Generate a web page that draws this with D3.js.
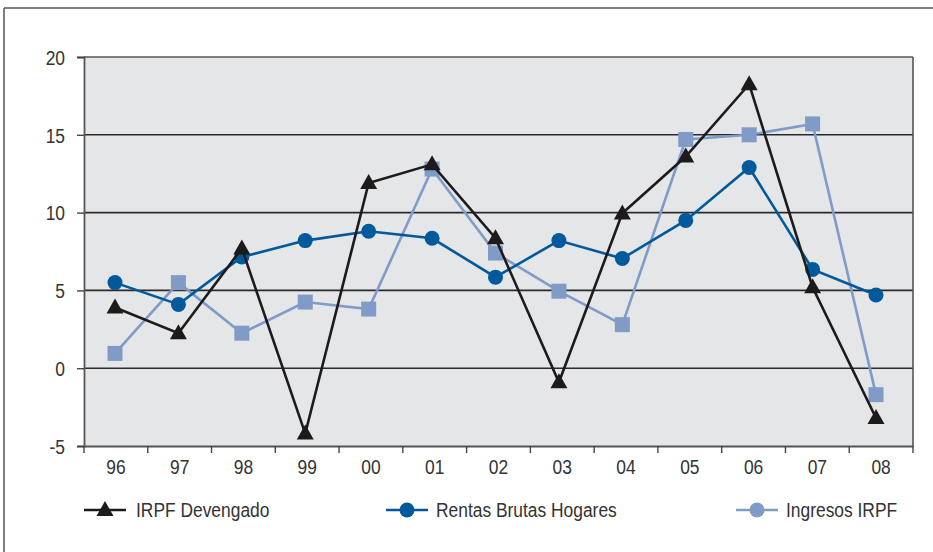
<!DOCTYPE html>
<html lang="es">
<head>
<meta charset="UTF-8">
<title>IRPF</title>
<script src="https://d3js.org/d3.v7.min.js"></script>
<style>
  body { margin: 0; background: #fff; }
  svg text { font-family: "Liberation Sans", Arial, sans-serif; fill: #333; }
</style>
</head>
<body>
<svg id="chart" width="933" height="552"></svg>
<script>
// data
var years = ["96","97","98","99","00","01","02","03","04","05","06","07","08"];
var irpfDevengado = [3.9, 2.25, 7.7, -4.2, 11.9, 13.1, 8.35, -0.9, 9.95, 13.6, 18.25, 5.2, -3.2];
var rentasBrutas = [5.5, 4.1, 7.15, 8.2, 8.8, 8.35, 5.85, 8.2, 7.05, 9.5, 12.9, 6.35, 4.7];
var ingresosIrpf = [0.95, 5.5, 2.25, 4.25, 3.8, 12.8, 7.4, 4.95, 2.8, 14.7, 15.0, 15.7, -1.7];
var yTicks = [-5, 0, 5, 10, 15, 20];

var series = [
  { name: "IRPF Devengado", values: irpfDevengado, color: "#1c1a1b", shape: "triangle" },
  { name: "Rentas Brutas Hogares", values: rentasBrutas, color: "#00599a", shape: "circle" },
  { name: "Ingresos IRPF", values: ingresosIrpf, color: "#7f9bc6", shape: "square" }
];

const svg = d3.select("#chart");
const margin = { left: 84, right: 20, top: 57, bottom: 106 };
const W = 933, H = 552;
const sx = 0.87; // condensed look of the text
const fontSize = 20;

// outer frame
svg.append("line").attr("x1", 4).attr("y1", 8).attr("x2", W).attr("y2", 8)
   .attr("stroke", "#555").attr("stroke-width", 1.5);
svg.append("line").attr("x1", 4).attr("y1", 8).attr("x2", 4).attr("y2", H)
   .attr("stroke", "#555").attr("stroke-width", 1.5);

const x = d3.scaleBand().domain(years).range([margin.left, W - margin.right]);
const xp = d3.scalePoint().domain(years).range([115, 876]); // marker positions
const y = d3.scaleLinear().domain([-5, 20]).range([H - margin.bottom, margin.top]);

// plot background
svg.append("rect")
   .attr("x", margin.left).attr("y", y(20))
   .attr("width", x.range()[1] - margin.left).attr("height", y(-5) - y(20))
   .attr("fill", "#e5e6e8");

// gridlines
svg.selectAll(".grid").data(yTicks.filter(d => d > -5)).enter().append("line")
   .attr("x1", margin.left).attr("x2", x.range()[1])
   .attr("y1", d => y(d)).attr("y2", d => y(d))
   .attr("stroke", d => d == 20 ? "#555" : "#2a2a2a").attr("stroke-width", 1.6);
// right border
svg.append("line").attr("x1", x.range()[1]).attr("x2", x.range()[1])
   .attr("y1", y(20)).attr("y2", y(-5)).attr("stroke", "#555").attr("stroke-width", 1.6);

// y axis
const yAxis = svg.append("g").attr("transform", `translate(${margin.left},0)`)
   .call(d3.axisLeft(y).tickValues(yTicks).tickSize(7).tickFormat(d => String(d)));
yAxis.selectAll("text").attr("x", -19 / sx).attr("dy", "0.36em");

// x axis with ticks on band edges
const xAxis = svg.append("g").attr("transform", `translate(0,${y(-5)})`)
   .call(d3.axisBottom(x).tickSize(0));
xAxis.selectAll("text").attr("y", 28).attr("dy", 0);
xAxis.selectAll(".edge").data(d3.range(years.length + 1)).enter().append("line")
   .attr("x1", i => margin.left + i * x.step()).attr("x2", i => margin.left + i * x.step())
   .attr("y1", 0).attr("y2", 7).attr("stroke", "#444").attr("stroke-width", 1.4);

[yAxis, xAxis].forEach(g => {
  g.select(".domain").attr("stroke", "#555").attr("stroke-width", 1.8);
  g.selectAll(".tick line").attr("stroke", "#444").attr("stroke-width", 1.4);
  g.selectAll("text").attr("font-size", fontSize).attr("fill", "#333")
   .attr("font-family", '"Liberation Sans", Arial, sans-serif')
   .attr("transform", `scale(${sx},1)`);
});

function drawMarker(g, shape, color) {
  if (shape == "triangle") {
    g.append("path").attr("d", "M0,-9 L8.5,6 L-8.5,6 Z").attr("fill", color);
  } else if (shape == "circle") {
    g.append("circle").attr("r", 7.5).attr("fill", color);
  } else {
    g.append("rect").attr("x", -7.5).attr("y", -7.5).attr("width", 15).attr("height", 15).attr("fill", color);
  }
}

// draw order: squares first, then circles, then triangles on top
[series[2], series[1], series[0]].forEach(s => {
  const line = d3.line().x((d, i) => xp(years[i])).y(d => y(d));
  svg.append("path").datum(s.values).attr("d", line)
     .attr("fill", "none").attr("stroke", s.color).attr("stroke-width", 2.6);
  s.values.forEach((v, i) => {
    const g = svg.append("g").attr("transform", `translate(${xp(years[i])},${y(v)})`);
    drawMarker(g, s.shape, s.color);
  });
});

// legend
var legendX = [84, 386, 736];
series.forEach((s, i) => {
  const g = svg.append("g").attr("transform", `translate(${legendX[i]},510)`);
  g.append("line").attr("x1", 0).attr("x2", 42).attr("y1", 0).attr("y2", 0)
   .attr("stroke", s.color).attr("stroke-width", 2.6);
  const m = g.append("g").attr("transform", "translate(21,0)");
  drawMarker(m, s.shape == "square" ? "circle" : s.shape, s.color);
  g.append("text").attr("transform", `translate(${s.shape == "triangle" ? 52 : 50},0) scale(${sx},1)`)
   .attr("dy", "0.36em").attr("font-size", fontSize).text(s.name);
});
</script>
</body>
</html>
